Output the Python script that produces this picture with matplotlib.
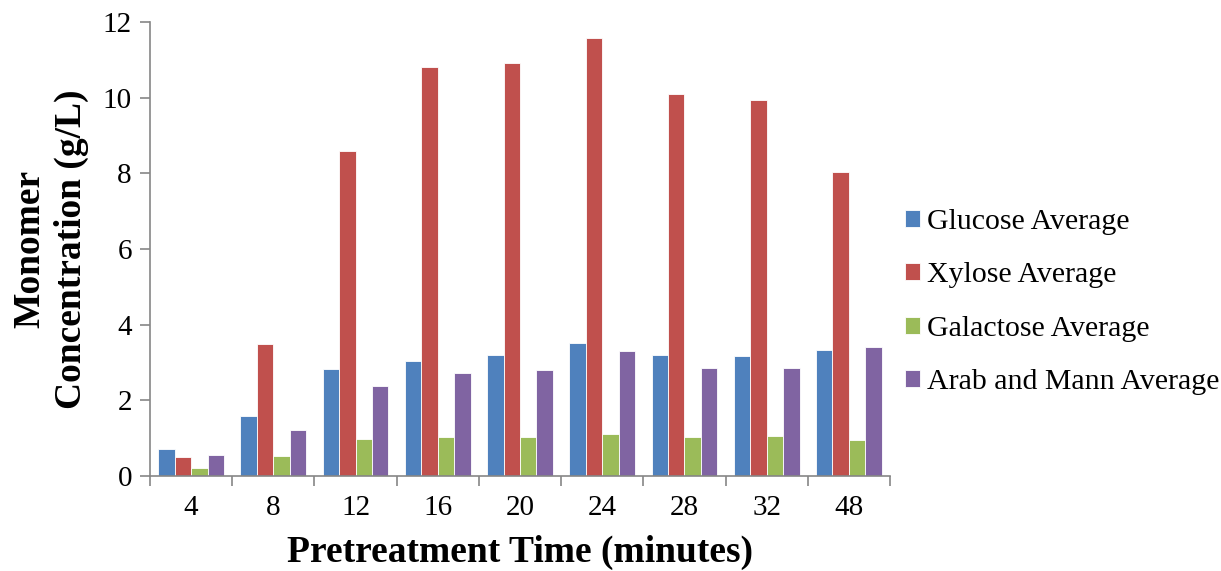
import numpy as np
import matplotlib.pyplot as plt

# Monomer concentrations
times = ['4', '8', '12', '16', '20', '24', '28', '32', '48']
glucose = [0.72, 1.59, 2.83, 3.05, 3.19, 3.51, 3.20, 3.16, 3.32]
xylose = [0.50, 3.50, 8.58, 10.81, 10.91, 11.57, 10.09, 9.95, 8.03]
galactose = [0.21, 0.53, 0.98, 1.03, 1.03, 1.10, 1.04, 1.06, 0.95]
arab_mann = [0.56, 1.21, 2.39, 2.73, 2.81, 3.31, 2.86, 2.86, 3.41]

series = [glucose, xylose, galactose, arab_mann]
labels = ['Glucose Average', 'Xylose Average', 'Galactose Average', 'Arab and Mann Average']
colors = ['#4F81BD', '#C0504D', '#9BBB59', '#8064A2']

plt.rcParams['font.family'] = ['Liberation Serif', 'DejaVu Serif']

fig = plt.figure(figsize=(12.21, 5.71), dpi=100)
ax = fig.add_axes([150 / 1221, 1 - 476 / 571, 740 / 1221, 454 / 571])

x = np.arange(len(times))
w = 0.2
bars = []
for i, (vals, lab, c) in enumerate(zip(series, labels, colors)):
    b = ax.bar(x - 0.3 + i * w, vals, width=w, color=c, edgecolor='white',
               linewidth=0.6, label=lab)
    bars.append(b)

ax.set_xlim(-0.5, len(times) - 0.5)
ax.set_ylim(0, 12)
ax.set_yticks(range(0, 13, 2))

# category labels at centers, tick marks at category boundaries
ax.set_xticks(x)
ax.set_xticklabels(times, fontsize=21)
ax.set_xticks(np.arange(-0.5, len(times), 1), minor=True)
ax.tick_params(axis='x', which='major', length=0, pad=14)
ax.tick_params(axis='x', which='minor', length=7, color='#868686', width=1.2)
ax.tick_params(axis='y', length=7, color='#868686', width=1.2, labelsize=21, pad=6)

for s in ['top', 'right']:
    ax.spines[s].set_visible(False)
for s in ['left', 'bottom']:
    ax.spines[s].set_color('#868686')
    ax.spines[s].set_linewidth(1.2)

ax.set_xlabel('Pretreatment Time (minutes)', fontsize=27, fontweight='bold', labelpad=10)
ax.set_ylabel('Monomer\nConcentration (g/L)', fontsize=27, fontweight='bold',
              labelpad=10, linespacing=1.25)

fig.legend(handles=bars, labels=labels, loc='center left',
           bbox_to_anchor=(878 / 1221, 1 - 302 / 571), frameon=False,
           fontsize=21.5, handlelength=0.5, handleheight=0.5, handletextpad=0.25,
           labelspacing=0.92)

fig.savefig('out.png', dpi=100)
